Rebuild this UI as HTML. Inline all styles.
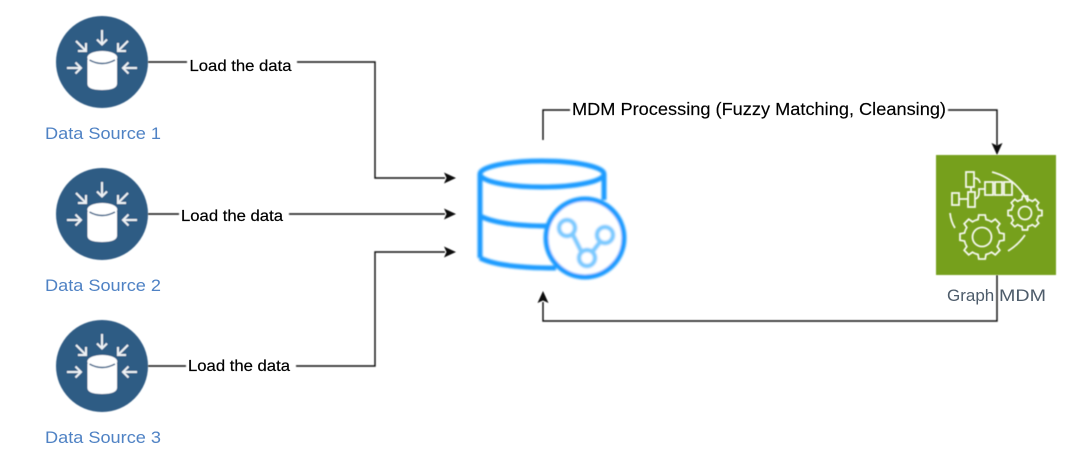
<!DOCTYPE html>
<html><head><meta charset="utf-8"><style>
html,body{margin:0;padding:0;background:#fff;width:1080px;height:457px;overflow:hidden}
svg{display:block}
text{font-family:"Liberation Sans",sans-serif}
</style></head><body>
<svg width="1080" height="457" viewBox="0 0 1080 457" xmlns="http://www.w3.org/2000/svg">
<defs>
<filter id="b" x="-5%" y="-5%" width="110%" height="110%"><feGaussianBlur stdDeviation="1.1"/></filter>
<filter id="s" x="-5%" y="-5%" width="110%" height="110%"><feGaussianBlur stdDeviation="0.4"/></filter>
<filter id="t" x="-5%" y="-20%" width="110%" height="140%"><feGaussianBlur stdDeviation="0.3"/></filter>
<g id="src">
<circle cx="102" cy="62" r="46" fill="#2f5b84"/>
<path d="M87.500 59.500V84q0 6 14.500 6t15-6V59.500z" fill="#fff"/>
<ellipse cx="102.300" cy="57.500" rx="15" ry="6.500" fill="#fff"/>
<path d="M89.500 60q12.500 7 25.500 0" fill="none" stroke="#2f5b84" stroke-width="1.500"/>
<g fill="none" stroke="#fff" stroke-width="2" opacity="0.92">
<path d="M102 30v14M97 39.500l5 5 5-5"/>
<path d="M76 41l10 10M78 51h8v-8"/>
<path d="M128 41l-10 10M126 51h-8v-8"/>
<path d="M67 68h14M75.500 62.500l5.500 5.500-5.500 5.500"/>
<path d="M137 68h-14M128.500 62.500l-5.500 5.500 5.500 5.500"/>
</g>
</g>
<path id="tooth" d="M-6.900-16.600L-4-17.500L-3.200-22H3.200L4-17.500L6.900-16.600"/>
<g id="gear">
<use href="#tooth"/>
<use href="#tooth" transform="rotate(45)"/>
<use href="#tooth" transform="rotate(90)"/>
<use href="#tooth" transform="rotate(135)"/>
<use href="#tooth" transform="rotate(180)"/>
<use href="#tooth" transform="rotate(225)"/>
<use href="#tooth" transform="rotate(270)"/>
<use href="#tooth" transform="rotate(315)"/>
</g>
</defs>

<g filter="url(#s)">
<use href="#src"/>
<use href="#src" y="152"/>
<use href="#src" y="304"/>
</g>

<g fill="none" stroke="#111" stroke-width="1.400" filter="url(#s)">
<path d="M148 62H187M297 62H375V178H445"/>
<path d="M148 214H179M289 214H445"/>
<path d="M148 366H186M296 366H375V252H445"/>
<path d="M543 140V110H570M948 110H997V146"/>
<path d="M997 275V321H543V302"/>
</g>
<g fill="#111" filter="url(#s)">
<path d="M456 178l-12-5.500 2.500 5.500-2.500 5.500z"/>
<path d="M456 214l-12-5.500 2.500 5.500-2.500 5.500z"/>
<path d="M456 252l-12-5.500 2.500 5.500-2.500 5.500z"/>
<path d="M997 155l-5.500-12 5.500 2.500 5.500-2.500z"/>
<path d="M543 291l-5.500 12 5.500-2.500 5.500 2.500z"/>
</g>

<g filter="url(#t)">
<text x="189.500" y="71" font-size="16" textLength="102" lengthAdjust="spacingAndGlyphs" fill="#000" stroke="#000" stroke-width="0.200">Load the data</text>
<text x="181" y="221" font-size="16" textLength="102" lengthAdjust="spacingAndGlyphs" fill="#000" stroke="#000" stroke-width="0.200">Load the data</text>
<text x="188" y="371" font-size="16" textLength="102" lengthAdjust="spacingAndGlyphs" fill="#000" stroke="#000" stroke-width="0.200">Load the data</text>
<text x="572" y="115" font-size="17.500" textLength="374" lengthAdjust="spacingAndGlyphs" fill="#000" stroke="#000" stroke-width="0.150">MDM Processing (Fuzzy Matching, Cleansing)</text>
<text x="45" y="139" font-size="17" textLength="116" lengthAdjust="spacingAndGlyphs" fill="#4f82c4">Data Source 1</text>
<text x="45" y="291" font-size="17" textLength="116" lengthAdjust="spacingAndGlyphs" fill="#4f82c4">Data Source 2</text>
<text x="45" y="443" font-size="17" textLength="116" lengthAdjust="spacingAndGlyphs" fill="#4f82c4">Data Source 3</text>
</g>

<!-- database icon -->
<g fill="none" stroke="#1f9bff" stroke-width="5" filter="url(#b)">
<ellipse cx="542" cy="174" rx="62" ry="13"/>
<path d="M480 174V258"/>
<path d="M604 174V200"/>
<path d="M480 216Q500 226 548 226"/>
<path d="M480 258Q500 268 556 268"/>
<circle cx="585" cy="238" r="39" fill="#fff"/>
<g stroke="#7ccaff" stroke-width="4.500">
<circle cx="567" cy="228" r="8"/>
<circle cx="605" cy="235" r="8"/>
<circle cx="587" cy="258" r="8"/>
<path d="M573 235L581 251M593 251L600 242"/>
</g>
</g>

<!-- graph MDM -->
<rect x="936" y="155" width="120" height="120" fill="#76a01a" filter="url(#s)"/>
<g fill="none" stroke="#fff" stroke-width="1.800" filter="url(#s)" opacity="0.92">
<rect x="966" y="172" width="8" height="15"/>
<rect x="968" y="192" width="7" height="15"/>
<rect x="952" y="193" width="7" height="12"/>
<rect x="985" y="182" width="8" height="13"/>
<rect x="995" y="182" width="7" height="13"/>
<rect x="1004" y="182" width="8" height="13"/>
<path d="M959 199h9M971 187v5M975 199q4-1 4-6v-4h6M974 178q5 0 6 5"/>
<path d="M992 172Q1016 178 1028 202"/>
<path d="M950 213Q951 222 955 228"/>
<path d="M1008 251Q1018 245 1025 235"/>
<circle cx="982" cy="237" r="9.500"/>
<use href="#gear" transform="translate(982 237)"/>
<circle cx="1025" cy="213" r="6.500"/>
<g transform="translate(1025 213) scale(0.77)" stroke-width="2.300"><use href="#gear"/></g>
</g>
<g filter="url(#t)">
<text x="947" y="301" font-size="17" fill="#4d5b6b">Graph</text>
<text x="999" y="301" font-size="17" textLength="47" lengthAdjust="spacingAndGlyphs" fill="#4d5b6b">MDM</text>
</g>
</svg>
</body></html>
